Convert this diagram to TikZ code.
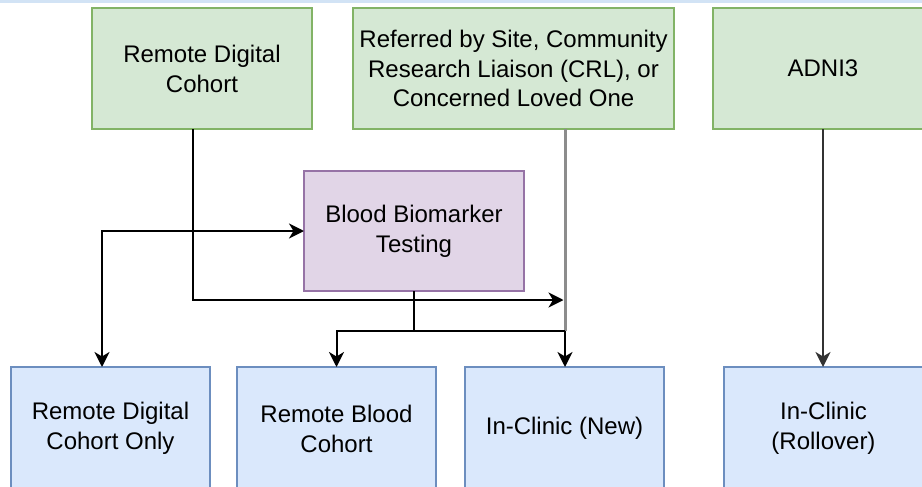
\documentclass[tikz,border=0pt]{standalone}
\usepackage{fontspec}
\setmainfont{Liberation Sans}
\usetikzlibrary{arrows.meta}
\definecolor{gfill}{HTML}{D5E8D4}
\definecolor{gline}{HTML}{82B366}
\definecolor{pfill}{HTML}{E1D5E7}
\definecolor{pline}{HTML}{9673A6}
\definecolor{bfill}{HTML}{DAE8FC}
\definecolor{bline}{HTML}{6C8EBF}
\definecolor{topband}{HTML}{D2E3F5}
\definecolor{greyconn}{HTML}{8C8C8C}
\definecolor{darkconn}{HTML}{333333}
\tikzset{
  box/.style={rectangle, draw, line width=1.6pt, align=center, inner sep=0pt, outer sep=0pt,
    font=\fontsize{24}{30}\selectfont, minimum height=121pt},
  greenbox/.style={box, fill=gfill, draw=gline},
  purplebox/.style={box, fill=pfill, draw=pline, minimum width=220pt, minimum height=120pt},
  bluebox/.style={box, fill=bfill, draw=bline, minimum width=199pt, minimum height=123pt},
  conn/.style={line width=2pt, draw=black},
  tip/.style={-{Stealth[length=15pt,width=15pt,inset=4.5pt]}},
  bothtips/.style={{Stealth[length=15pt,width=15pt,inset=4.5pt]}-{Stealth[length=15pt,width=15pt,inset=4.5pt]}},
}
\begin{document}
\begin{tikzpicture}[x=1pt,y=-1pt]
\useasboundingbox (0,0) rectangle (922,487);
\clip (0,0) rectangle (922,487);
\fill[topband] (0,0) rectangle (922,3.5);

\node[greenbox, minimum width=220pt] (rdc) at (202,68.5) {Remote Digital\\Cohort};
\node[greenbox, minimum width=321pt, font=\fontsize{24}{29.5}\selectfont] (ref) at (513.5,68.5) {Referred by Site, Community\\Research Liaison (CRL), or\\Concerned Loved One};
\node[greenbox, minimum width=220pt] (adni) at (823,68.5) {ADNI3};

\node[purplebox] (bbt) at (414,231) {Blood Biomarker\\Testing};

\node[bluebox] (only) at (110.5,428.5) {Remote Digital\\Cohort Only};
\node[bluebox] (rb) at (336.5,428.5) {Remote Blood\\Cohort};
\node[bluebox] (new) at (564.5,428.5) {In-Clinic (New)};
\node[bluebox] (roll) at (823.5,428.5) {In-Clinic\\(Rollover)};

\coordinate (rx) at (565,0);
\coordinate (j1) at (193,300);
\coordinate (j2) at (102,231);
\coordinate (j3) at (414,331);

% referred line (grey)
\draw[line width=3pt, draw=greyconn] (ref.south -| rx) -- (j3 -| rx);
\draw[conn, tip] (j3 -| rx) -- (new.north -| rx);
% ADNI3 to rollover
\draw[conn, draw=darkconn, tip] (adni.south) -- (adni.south |- roll.north);
% remote digital cohort to referred line
\draw[conn, tip, shorten >=1.5pt] (rdc.south -| j1) -- (j1) -- (j1 -| rx);
% double arrow blood biomarker / remote digital cohort only
\draw[conn, bothtips] (bbt.west) -- (j2) -- (j2 |- only.north);
% blood biomarker down
\draw[conn] (bbt.south) -- (j3);
\draw[conn, tip] (j3) -- (j3 -| rb.north) -- (rb.north);
\draw[conn] (j3) -- (j3 -| rx);
\end{tikzpicture}
\end{document}
